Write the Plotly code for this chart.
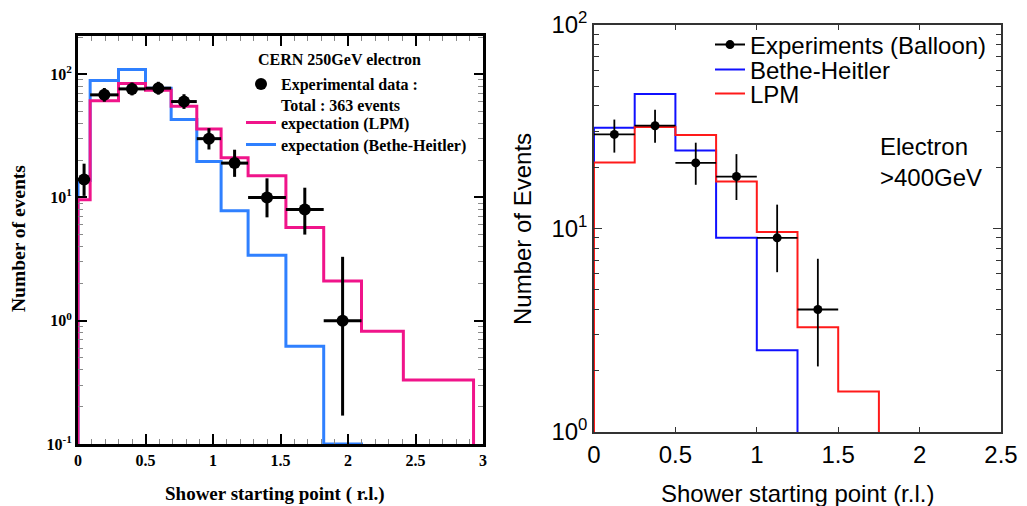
import plotly.graph_objects as go

# ---------------- Left panel: CERN 250 GeV electron ----------------
left_edges = [0.0, 0.09, 0.30, 0.50, 0.69, 0.88, 1.06, 1.26, 1.54, 1.82, 2.10, 2.41, 2.93]
left_lpm = [9.6, 61, 84, 74, 55, 36, 21, 15, 5.7, 2.1, 0.82, 0.33]
left_bh = [13.7, 89, 109, 77, 43, 19.6, 7.8, 3.4, 0.62, 0.1]
left_x = [0.045, 0.195, 0.40, 0.595, 0.785, 0.97, 1.16, 1.40, 1.68, 1.96]
left_y = [14, 68, 76, 77, 60, 30, 19, 10, 8, 1]
left_err_plus = [4.8, 9.3, 9.7, 9.8, 8.8, 6.5, 5.4, 4.3, 4.0, 2.3]
left_err_minus = [3.7, 8.2, 8.7, 8.7, 7.7, 5.5, 4.3, 3.1, 3.0, 0.83]

# ---------------- Right panel: Balloon, electron > 400 GeV ----------------
right_edges = [0.0, 0.25, 0.50, 0.75, 1.00, 1.25, 1.50, 1.75]
right_lpm = [21.1, 31.5, 28.8, 17.0, 9.6, 3.27, 1.58]
right_bh = [31.3, 45.8, 24.2, 9.0, 2.52]
right_x = [0.125, 0.375, 0.625, 0.875, 1.125, 1.375]
right_y = [29, 32, 21, 18, 9, 4]
right_err_plus = [5.3, 6.3, 5.4, 5.2, 4.1, 3.1]
right_err_minus = [5.4, 5.6, 4.6, 4.2, 2.9, 1.9]

x_ticks_left = [0, 0.5, 1, 1.5, 2, 2.5, 3]
x_ticks_right = [0, 0.5, 1, 1.5, 2, 2.5]

# the page body has an 8px margin: size the figure to fill the rest of the window
OFF = 8
W, H = 1027 - OFF, 506 - OFF


def px_x(p):
    return (p - OFF) / W


def px_y(p):
    return 1 - (p - OFF) / H


def steps(edges, vals, floor):
    n = len(vals)
    xs = [edges[0]] + edges[:n] + [edges[n], edges[n]]
    ys = [floor] + list(vals) + [vals[-1], floor]
    return xs, ys


def half_widths(edges, n):
    return [(edges[i + 1] - edges[i]) / 2 for i in range(n)]


def minor_log(lo, hi):
    out = []
    for d in range(lo, hi):
        for k in range(2, 10):
            out.append(k * 10 ** d)
    return out


SERIF = "Liberation Serif"
SANS = "Liberation Sans"
PINK = "#f0148a"
LBLUE = "#2f80ff"
RBLUE = "#1010ff"
RED = "#ff1a1a"

fig = go.Figure()

# left histograms
xs, ys = steps(left_edges, left_bh, 1e-3)
fig.add_trace(go.Scatter(x=xs, y=ys, mode="lines", line=dict(color=LBLUE, width=3, shape="hv"),
                         name="expectation (Bethe-Heitler)", legend="legend3",
                         xaxis="x", yaxis="y"))
xs, ys = steps(left_edges, left_lpm, 1e-3)
fig.add_trace(go.Scatter(x=xs, y=ys, mode="lines", line=dict(color=PINK, width=3, shape="hv"),
                         name="expectation (LPM)", legend="legend2",
                         xaxis="x", yaxis="y"))
fig.add_trace(go.Scatter(
    x=left_x, y=left_y, mode="markers",
    marker=dict(color="black", size=12),
    error_x=dict(type="data", array=half_widths(left_edges, len(left_x)), thickness=3, width=0, color="black"),
    error_y=dict(type="data", array=left_err_plus, arrayminus=left_err_minus, thickness=3, width=0, color="black"),
    name="Experimental data :<br>Total : 363 events", legend="legend",
    xaxis="x", yaxis="y"))

# right histograms
xs, ys = steps(right_edges, right_bh, 1e-2)
fig.add_trace(go.Scatter(x=xs, y=ys, mode="lines", line=dict(color=RBLUE, width=2, shape="hv"),
                         name="Bethe-Heitler", legend="legend5", xaxis="x2", yaxis="y2"))
xs, ys = steps(right_edges, right_lpm, 1e-2)
fig.add_trace(go.Scatter(x=xs, y=ys, mode="lines", line=dict(color=RED, width=2, shape="hv"),
                         name="LPM", legend="legend6", xaxis="x2", yaxis="y2"))
fig.add_trace(go.Scatter(
    x=right_x, y=right_y, mode="markers",
    marker=dict(color="black", size=9),
    error_x=dict(type="data", array=half_widths(right_edges, len(right_x)), thickness=1.8, width=0, color="black"),
    error_y=dict(type="data", array=right_err_plus, arrayminus=right_err_minus, thickness=1.8, width=0, color="black"),
    showlegend=False, xaxis="x2", yaxis="y2"))
# legend entry (line + dot glyph) for the balloon data
fig.add_trace(go.Scatter(x=[None], y=[None], mode="lines+markers",
                         line=dict(color="black", width=2), marker=dict(color="black", size=9),
                         name="Experiments (Balloon)", legend="legend4", xaxis="x2", yaxis="y2"))


leg_common = dict(bgcolor="rgba(0,0,0,0)", borderwidth=0, xanchor="left", itemwidth=30)
lfont = dict(family=SERIF, size=16, color="black", weight="bold")
ltick = dict(family=SERIF, size=16, color="black", weight="bold")
rfont = dict(family=SANS, size=24, color="black")

fig.update_layout(
    template="none",
    width=W, height=H,
    margin=dict(l=0, r=0, t=0, b=0, autoexpand=False),
    paper_bgcolor="white", plot_bgcolor="white",
    legend=dict(x=px_x(241), y=px_y(67), yanchor="top", valign="top", font=lfont, **leg_common),
    legend2=dict(x=px_x(241), y=px_y(122.5), yanchor="middle", font=lfont, **leg_common),
    legend3=dict(x=px_x(241), y=px_y(144.5), yanchor="middle", font=lfont, **leg_common),
    legend4=dict(x=px_x(710), y=px_y(45), yanchor="middle", font=rfont, **leg_common),
    legend5=dict(x=px_x(710), y=px_y(70), yanchor="middle", font=rfont, **leg_common),
    legend6=dict(x=px_x(710), y=px_y(94), yanchor="middle", font=rfont, **leg_common),
    xaxis=dict(
        domain=[px_x(78), px_x(483)], range=[0, 3], automargin=False,
        showline=True, linewidth=3, linecolor="black", mirror="allticks",
        ticks="inside", ticklen=10, tickwidth=1.5, tickcolor="black",
        tickvals=x_ticks_left, ticktext=[f"{v:g}" for v in x_ticks_left],
        minor=dict(ticks="inside", ticklen=5, tickwidth=1.2, tickcolor="#8a8a8a", dtick=0.1, tick0=0),
        showgrid=False, zeroline=False, tickfont=ltick, anchor="y",
    ),
    yaxis=dict(
        domain=[px_y(444), px_y(36)], type="log", range=[-1, 2.31], automargin=False,
        showline=True, linewidth=3, linecolor="black", mirror="allticks",
        ticks="inside", ticklen=9, tickwidth=1.5, tickcolor="black",
        tickvals=[0.1, 1, 10, 100],
        ticktext=["10<sup>-1</sup>", "10<sup>0</sup>", "10<sup>1</sup>", "10<sup>2</sup>"],
        minor=dict(ticks="inside", ticklen=5, tickwidth=1.2, tickcolor="#8a8a8a", tickvals=minor_log(-1, 3)),
        showgrid=False, zeroline=False, tickfont=ltick, anchor="x",
    ),
    xaxis2=dict(
        domain=[px_x(594), px_x(1001)], range=[0, 2.5], automargin=False,
        showline=True, linewidth=1.5, linecolor="#333333", mirror="allticks",
        ticks="inside", ticklen=5, tickwidth=1.2, tickcolor="#333333",
        tickvals=x_ticks_right, ticktext=[f"{v:g}" for v in x_ticks_right],
        showgrid=False, zeroline=False, tickfont=rfont, anchor="y2",
    ),
    yaxis2=dict(
        domain=[px_y(432), px_y(25)], type="log", range=[0, 2], automargin=False,
        showline=True, linewidth=1.5, linecolor="#333333", mirror="allticks",
        ticks="inside", ticklen=8, tickwidth=1.2, tickcolor="#333333",
        tickvals=[1, 10, 100],
        ticktext=["10<sup>0</sup>", "10<sup>1</sup>", "10<sup>2</sup>"],
        minor=dict(ticks="inside", ticklen=5, tickwidth=1.2, tickcolor="#333333", tickvals=minor_log(0, 2)),
        showgrid=False, zeroline=False, tickfont=rfont, anchor="x2",
    ),
)

annotations = [
    dict(text="CERN 250GeV electron", x=px_x(256), y=px_y(60), xanchor="left", yanchor="middle",
         font=dict(family=SERIF, size=16, color="black", weight="bold")),
    dict(text="Shower starting point ( r.l.)", x=px_x(275), y=px_y(494), xanchor="center", yanchor="middle",
         font=dict(family=SERIF, size=19, color="black", weight="bold")),
    dict(text="Number of events", x=px_x(18), y=px_y(239), xanchor="center", yanchor="middle", textangle=-90,
         font=dict(family=SERIF, size=19.5, color="black", weight="bold")),
    dict(text="Electron<br>>400GeV", x=px_x(878), y=px_y(162), xanchor="left", yanchor="middle", align="left",
         font=dict(family=SANS, size=24, color="black")),
    dict(text="Shower starting point (r.l.)", x=px_x(797), y=px_y(493), xanchor="center", yanchor="middle",
         font=dict(family=SANS, size=24, color="black")),
    dict(text="Number of Events", x=px_x(523), y=px_y(229), xanchor="center", yanchor="middle", textangle=-90,
         font=dict(family=SANS, size=24, color="black")),
]
for a in annotations:
    a.update(xref="paper", yref="paper", showarrow=False)
fig.update_layout(annotations=annotations)

fig.write_html("out.html")
